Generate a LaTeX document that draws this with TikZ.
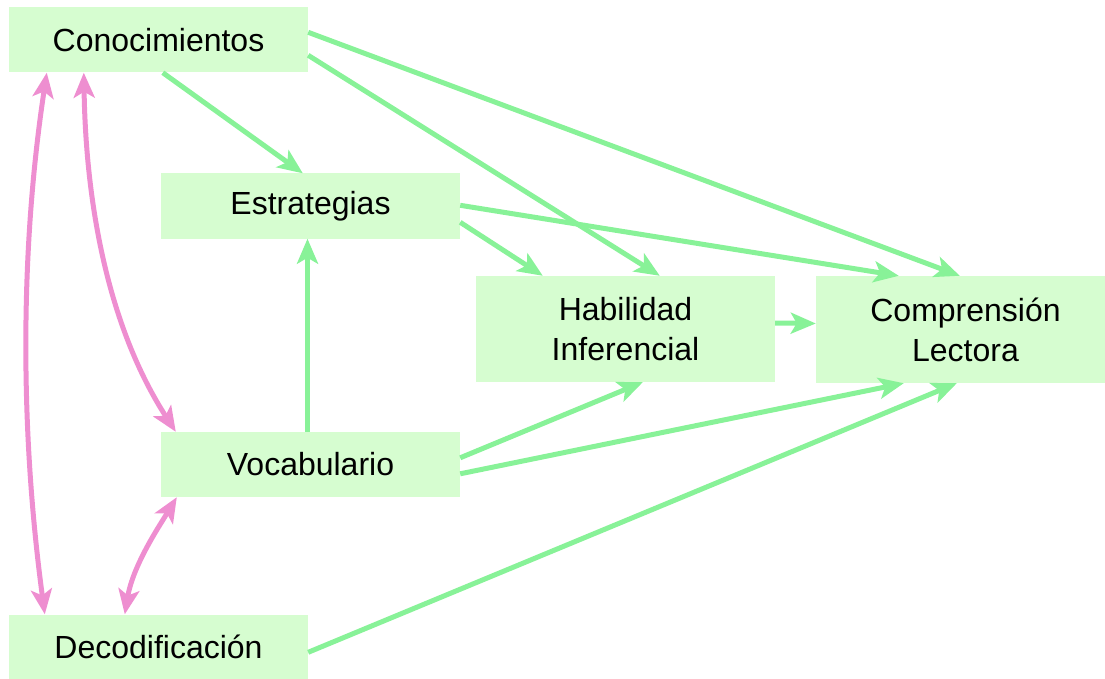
\documentclass[tikz,border=0pt]{standalone}
\usepackage{fontspec}
\setmainfont{Liberation Sans}
\usetikzlibrary{arrows.meta,calc}
\definecolor{boxfill}{RGB}{214,253,208}
\definecolor{grn}{RGB}{136,242,152}
\definecolor{pnk}{RGB}{238,142,208}
\tikzset{
  box/.style={fill=boxfill, draw=none, minimum width=299pt, minimum height=65pt,
    inner sep=0pt, align=center, font=\fontsize{32}{40}\selectfont},
  tipg/.tip={Stealth[length=25pt,width=21pt,inset=6pt]},
  garrow/.style={draw=grn, line width=5pt, -tipg},
  parrow/.style={draw=pnk, line width=5pt, tipg-tipg}
}
\begin{document}
\begin{tikzpicture}[x=1pt,y=-1pt]
\useasboundingbox (0,0) rectangle (1105,679);
\clip (0,0) rectangle (1105,679);
\node[box] (conoc) at (158.5,40) {Conocimientos};
\node[box] (estrat) at (310.5,206) {Estrategias};
\node[box, minimum height=106pt] (habil) at (625.5,329) {Habilidad\\Inferencial};
\node[box, minimum height=107pt] (comp) at (965.5,329.5) {Comprensión\\Lectora};
\node[box] (vocab) at (310.5,464.5) {Vocabulario};
\node[box, minimum height=64pt] (decod) at (158.5,646.5) {Decodificación};
% green arrows
\draw[garrow] ([xshift=154pt]conoc.south west) -- ([xshift=142pt]estrat.north west);
\draw[garrow] ([yshift=-48pt]conoc.north east) -- ([xshift=184pt]habil.north west);
\draw[garrow] ([yshift=-25pt]conoc.north east) -- ([xshift=144pt]comp.north west);
\draw[garrow] ([yshift=-49pt]estrat.north east) -- ([xshift=67pt]habil.north west);
\draw[garrow] ([yshift=-32pt]estrat.north east) -- ([xshift=83pt]comp.north west);
\draw[garrow] ([yshift=6pt]habil.east) -- ([yshift=6pt]comp.west);
\draw[garrow] ([xshift=-3pt]vocab.north) -- ([xshift=-3pt]estrat.south);
\draw[garrow] ([yshift=-26pt]vocab.north east) -- ([xshift=167pt]habil.south west);
\draw[garrow] ([yshift=-42pt]vocab.north east) -- ([xshift=88pt]comp.south west);
\draw[garrow] ([yshift=-38pt]decod.north east) -- ([xshift=141pt]comp.south west);
% pink arrows
\draw[parrow] ([xshift=38pt]conoc.south west) .. controls (20,250) and (20,430) .. ([xshift=36pt]decod.north west);
\draw[parrow] ([xshift=75pt]conoc.south west) .. controls (86,210) and (110,330) .. ([xshift=15pt]vocab.north west);
\draw[parrow] ([xshift=16pt]vocab.south west) .. controls (160,525) and (133,565) .. ([xshift=116pt]decod.north west);
\end{tikzpicture}
\end{document}
